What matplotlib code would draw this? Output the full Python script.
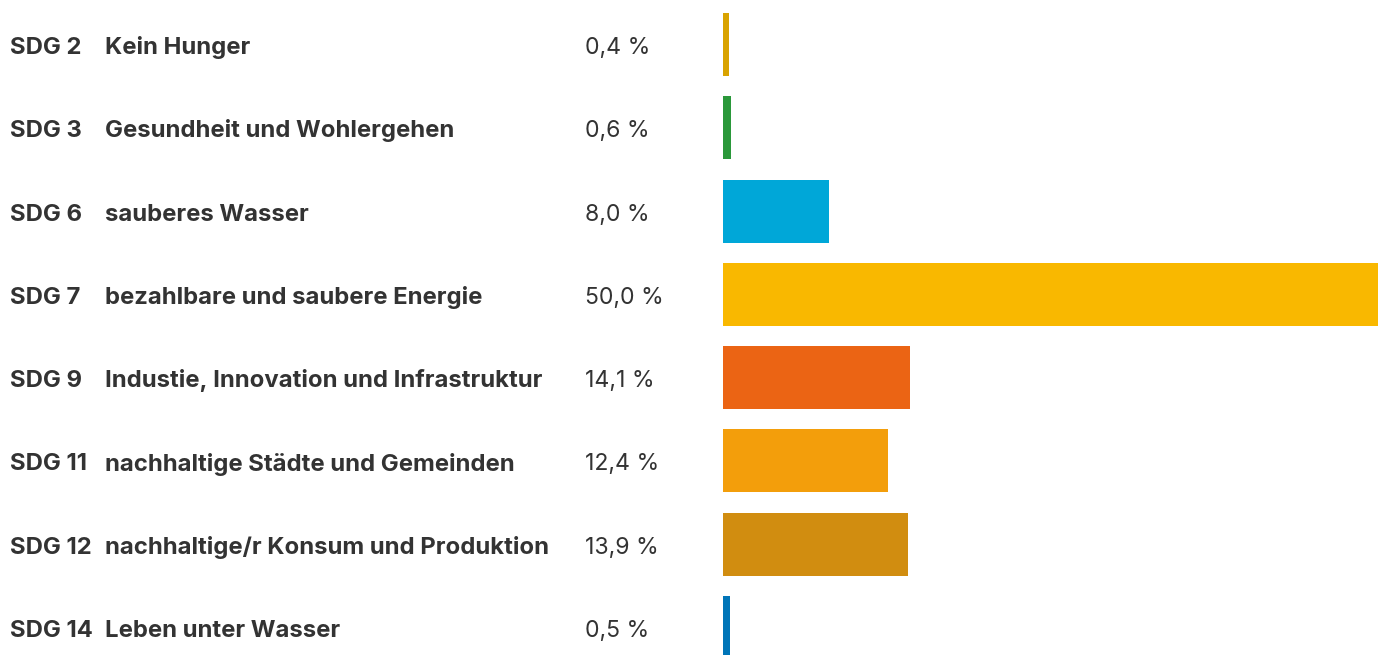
import matplotlib
matplotlib.use("Agg")
import matplotlib.pyplot as plt
import matplotlib.transforms as mtransforms

codes = ["SDG 2", "SDG 3", "SDG 6", "SDG 7", "SDG 9", "SDG 11", "SDG 12", "SDG 14"]
names = ["Kein Hunger", "Gesundheit und Wohlergehen", "sauberes Wasser",
         "bezahlbare und saubere Energie", "Industie, Innovation und Infrastruktur",
         "nachhaltige Städte und Gemeinden", "nachhaltige/r Konsum und Produktion",
         "Leben unter Wasser"]
values = [0.4, 0.6, 8.0, 50.0, 14.1, 12.4, 13.9, 0.5]
value_labels = ["0,4 %", "0,6 %", "8,0 %", "50,0 %", "14,1 %", "12,4 %", "13,9 %", "0,5 %"]
colors = ["#D9A300", "#2A983A", "#00A7D8", "#F9B800", "#EB6414", "#F39E0B", "#D18D10", "#0075B8"]

W, H = 1378, 655
fig = plt.figure(figsize=(W / 100, H / 100), dpi=100)
x0 = 723 / W
ax = fig.add_axes([x0, 0, 1 - x0, 1])
step = 83.3
top = 44.5
ax.set_ylim((H - top) / step, -top / step)
ax.set_xlim(0, 655 / 13.28)
ypos = list(range(len(values)))
disp = [max(v, 0.45) for v in values]
ax.barh(ypos, disp, height=63 / step, color=colors, left=0)
ax.axis("off")

txtcol = "#333333"
fam = ["Inter", "DejaVu Sans"]
fsb = 17.2
fs = 16.6
off = mtransforms.ScaledTranslation(0, -9.5 / 100, fig.dpi_scale_trans)
for i in ypos:
    tr = mtransforms.blended_transform_factory(fig.transFigure, ax.transData) + off
    fig.text(10 / W, i, codes[i], transform=tr, fontsize=fsb, fontweight="bold",
             family=fam, color=txtcol, va="baseline", ha="left")
    fig.text(105 / W, i, names[i], transform=tr, fontsize=fsb, fontweight="bold",
             family=fam, color=txtcol, va="baseline", ha="left")
    fig.text(585 / W, i, value_labels[i], transform=tr, fontsize=fs, fontweight="normal",
             family=fam, color=txtcol, va="baseline", ha="left")

fig.savefig("out.png", dpi=100)
